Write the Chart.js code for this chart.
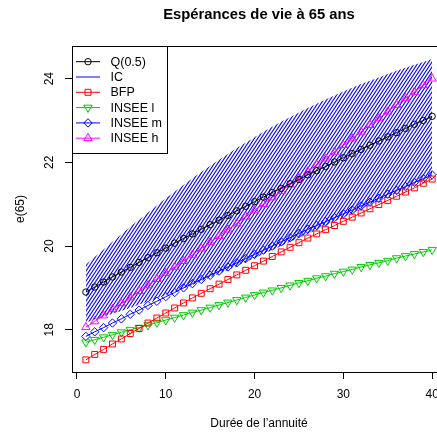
<!DOCTYPE html>
<html>
<head>
<meta charset="utf-8">
<script src="https://cdn.jsdelivr.net/npm/chart.js@4.4.1/dist/chart.umd.min.js"></script>
<style>
  html, body { margin: 0; padding: 0; background: #fff; overflow: hidden; }
  #wrap { width: 437px; height: 433px; overflow: hidden; }
  canvas { display: block; }
</style>
</head>
<body>
<div id="wrap"><canvas id="esperance" width="456" height="433"></canvas></div>
<script>
// durée de l'annuité (années)
const duree = [1, 2, 3, 4, 5, 6, 7, 8, 9, 10, 11, 12, 13, 14, 15, 16, 17, 18, 19, 20,
               21, 22, 23, 24, 25, 26, 27, 28, 29, 30, 31, 32, 33, 34, 35, 36, 37, 38, 39, 40];

// médiane Q(0.5)
const q50 = [18.90, 19.02, 19.14, 19.26, 19.38, 19.49, 19.61, 19.72, 19.84, 19.95,
             20.07, 20.18, 20.29, 20.40, 20.51, 20.62, 20.73, 20.84, 20.95, 21.06,
             21.17, 21.28, 21.38, 21.49, 21.59, 21.70, 21.80, 21.90, 22.01, 22.11,
             22.21, 22.31, 22.41, 22.51, 22.61, 22.71, 22.81, 22.91, 23.00, 23.10];

// intervalle de confiance
const icBas = [18.17, 18.24, 18.31, 18.38, 18.45, 18.52, 18.60, 18.67, 18.75, 18.83,
               18.91, 18.99, 19.07, 19.16, 19.25, 19.34, 19.43, 19.52, 19.62, 19.71,
               19.81, 19.90, 20.00, 20.10, 20.19, 20.29, 20.39, 20.49, 20.59, 20.69,
               20.79, 20.89, 20.99, 21.08, 21.18, 21.28, 21.38, 21.48, 21.58, 21.67];
const icHaut = [19.55, 19.74, 19.92, 20.10, 20.28, 20.46, 20.63, 20.80, 20.97, 21.14,
                21.30, 21.46, 21.62, 21.77, 21.92, 22.06, 22.20, 22.34, 22.47, 22.60,
                22.73, 22.85, 22.97, 23.08, 23.19, 23.30, 23.40, 23.50, 23.60, 23.69,
                23.78, 23.87, 23.95, 24.03, 24.11, 24.19, 24.26, 24.33, 24.40, 24.47];

const bfp = [17.28, 17.41, 17.53, 17.66, 17.78, 17.91, 18.03, 18.16, 18.28, 18.40,
             18.52, 18.64, 18.76, 18.87, 18.98, 19.09, 19.20, 19.31, 19.42, 19.53,
             19.64, 19.75, 19.86, 19.97, 20.08, 20.19, 20.29, 20.39, 20.49, 20.59,
             20.69, 20.79, 20.89, 20.99, 21.09, 21.19, 21.29, 21.39, 21.50, 21.60];

const inseeL = [17.70, 17.76, 17.82, 17.88, 17.94, 18.00, 18.05, 18.11, 18.17, 18.23,
                18.29, 18.35, 18.41, 18.47, 18.53, 18.59, 18.65, 18.71, 18.77, 18.83,
                18.89, 18.94, 19.00, 19.06, 19.12, 19.17, 19.23, 19.28, 19.34, 19.39,
                19.44, 19.50, 19.55, 19.60, 19.65, 19.71, 19.76, 19.81, 19.86, 19.91];

const inseeM = [17.84, 17.95, 18.05, 18.16, 18.26, 18.37, 18.47, 18.58, 18.68, 18.79,
                18.89, 19.00, 19.10, 19.20, 19.30, 19.40, 19.50, 19.60, 19.70, 19.80,
                19.90, 20.00, 20.10, 20.20, 20.30, 20.40, 20.49, 20.58, 20.68, 20.77,
                20.86, 20.96, 21.05, 21.14, 21.24, 21.33, 21.42, 21.52, 21.61, 21.70];

const inseeH = [18.06, 18.20, 18.34, 18.49, 18.63, 18.77, 18.92, 19.06, 19.21, 19.35,
                19.50, 19.64, 19.79, 19.94, 20.09, 20.24, 20.39, 20.54, 20.70, 20.85,
                21.00, 21.16, 21.31, 21.47, 21.62, 21.78, 21.94, 22.09, 22.25, 22.41,
                22.57, 22.73, 22.89, 23.05, 23.21, 23.37, 23.53, 23.68, 23.84, 24.00];

const xTicks = [0, 10, 20, 30, 40];
const yTicks = [18, 20, 22, 24];

const titre = "Espérances de vie à 65 ans";
const POLICE = '"Liberation Sans", Arial, Helvetica, sans-serif';

function points(ys) {
    return duree.map((x, i) => ({ x: x, y: ys[i] }));
}

// hachures de l'IC : famille de droites 3x + 2y = 10k, périodique sur une tuile 10x5
function hachures(ctx) {
    const tuile = document.createElement('canvas');
    tuile.width = 10;
    tuile.height = 5;
    const t = tuile.getContext('2d');
    t.strokeStyle = '#0000ff';
    t.lineWidth = 1.1;
    for (let k = -4; k <= 8; k++) {
        const y1 = -10, y2 = 15;
        t.beginPath();
        t.moveTo((10 * k - 2 * y1) / 3, y1);
        t.lineTo((10 * k - 2 * y2) / 3, y2);
        t.stroke();
    }
    return ctx.createPattern(tuile, 'repeat');
}

function serie(label, ys, couleur, style, rayon, rotation, ordre) {
    return {
        label: label,
        data: points(ys),
        borderColor: couleur,
        borderWidth: 1,
        pointStyle: style,
        pointRadius: rayon,
        pointRotation: rotation,
        pointBorderColor: couleur,
        pointBackgroundColor: 'rgba(0,0,0,0)',
        pointBorderWidth: 1,
        fill: false,
        order: ordre
    };
}

// entrées de la légende (dans l'ordre d'affichage)
const legende = [
    { texte: 'Q(0.5)', couleur: '#000000', style: 'circle', rayon: 3.2, rotation: 0 },
    { texte: 'IC', couleur: '#0000ff', style: null },
    { texte: 'BFP', couleur: '#ff0000', style: 'rect', rayon: 4.2, rotation: 0 },
    { texte: 'INSEE l', couleur: '#00cc00', style: 'triangle', rayon: 4.8, rotation: 180 },
    { texte: 'INSEE m', couleur: '#0000ff', style: 'rectRot', rayon: 4.2, rotation: 0 },
    { texte: 'INSEE h', couleur: '#ff00ff', style: 'triangle', rayon: 4.8, rotation: 0 }
];

const cadre = {
    id: 'cadre',
    afterDraw(chart) {
        const { ctx, chartArea: a } = chart;
        ctx.save();
        ctx.strokeStyle = '#000';
        ctx.lineWidth = 1;
        ctx.strokeRect(a.left + 0.5, a.top + 0.5, a.right - a.left, a.bottom - a.top);

        // titre
        ctx.fillStyle = '#000';
        ctx.font = 'bold 14.8px ' + POLICE;
        ctx.textAlign = 'center';
        ctx.textBaseline = 'middle';
        ctx.fillText(titre, (a.left + a.right) / 2, 15);

        // légende en haut à gauche
        const lx = a.left + 0.5, ly = a.top + 0.5;
        ctx.fillStyle = '#fff';
        ctx.fillRect(lx, ly, 95, 107);
        ctx.strokeRect(lx, ly, 95, 107);
        ctx.font = '12.5px ' + POLICE;
        ctx.textAlign = 'left';
        legende.forEach((e, i) => {
            const y = 61.7 + i * 15.3;
            ctx.strokeStyle = e.couleur;
            ctx.lineWidth = 1;
            ctx.beginPath();
            ctx.moveTo(76, y);
            ctx.lineTo(100, y);
            ctx.stroke();
            if (e.style && Chart.helpers && Chart.helpers.drawPoint) {
                ctx.fillStyle = 'rgba(0,0,0,0)';
                Chart.helpers.drawPoint(ctx, {
                    pointStyle: e.style, radius: e.rayon, rotation: e.rotation, borderWidth: 1
                }, 88, y);
            }
            ctx.fillStyle = '#000';
            ctx.fillText(e.texte, 110.5, y + 0.5);
        });
        ctx.restore();
    }
};

const ctx = document.getElementById('esperance').getContext('2d');

new Chart(ctx, {
    type: 'line',
    data: {
        datasets: [
            serie('Q(0.5)', q50, '#000000', 'circle', 3.2, 0, 1),
            {
                label: 'IC bas',
                data: points(icBas),
                borderWidth: 0,
                borderColor: 'rgba(0,0,0,0)',
                pointRadius: 0,
                fill: false,
                order: 20
            },
            {
                label: 'IC',
                data: points(icHaut),
                borderWidth: 0,
                borderColor: 'rgba(0,0,0,0)',
                pointRadius: 0,
                fill: 1,
                backgroundColor: hachures(ctx),
                order: 19
            },
            serie('BFP', bfp, '#ff0000', 'rect', 4.2, 0, 2),
            serie('INSEE l', inseeL, '#00cc00', 'triangle', 4.8, 180, 3),
            serie('INSEE m', inseeM, '#0000ff', 'rectRot', 4.2, 0, 4),
            serie('INSEE h', inseeH, '#ff00ff', 'triangle', 4.8, 0, 5)
        ]
    },
    options: {
        responsive: false,
        animation: false,
        events: [],
        layout: { padding: { left: 0, top: 46, right: 10, bottom: 0 } },
        plugins: {
            legend: { display: false },
            tooltip: { enabled: false },
            title: { display: false }
        },
        scales: {
            x: {
                type: 'linear',
                min: -0.56,
                max: 41.56,
                afterBuildTicks: s => { s.ticks = xTicks.map(v => ({ value: v })); },
                afterFit: s => { s.height = 61; },
                border: { display: false },
                grid: { display: true, drawOnChartArea: false, drawTicks: true, tickLength: 7, color: '#000', tickColor: '#000' },
                ticks: { color: '#000', font: { family: POLICE, size: 12 }, padding: 8, maxRotation: 0 },
                title: {
                    display: true,
                    text: 'Durée de l’annuité',
                    color: '#000',
                    font: { family: POLICE, size: 12 },
                    padding: { top: 0, bottom: 2 }
                }
            },
            y: {
                type: 'linear',
                min: 16.99,
                max: 24.78,
                afterBuildTicks: s => { s.ticks = yTicks.map(v => ({ value: v })); },
                afterFit: s => { s.width = 72; },
                border: { display: false },
                grid: { display: true, drawOnChartArea: false, drawTicks: true, tickLength: 7, color: '#000', tickColor: '#000' },
                ticks: { color: '#000', font: { family: POLICE, size: 12 }, padding: 9, minRotation: 90, maxRotation: 90, crossAlign: 'center' },
                title: {
                    display: true,
                    text: 'e(65)',
                    color: '#000',
                    font: { family: POLICE, size: 12 },
                    padding: { top: 13, bottom: 0 }
                }
            }
        }
    },
    plugins: [cadre]
});
</script>
</body>
</html>
